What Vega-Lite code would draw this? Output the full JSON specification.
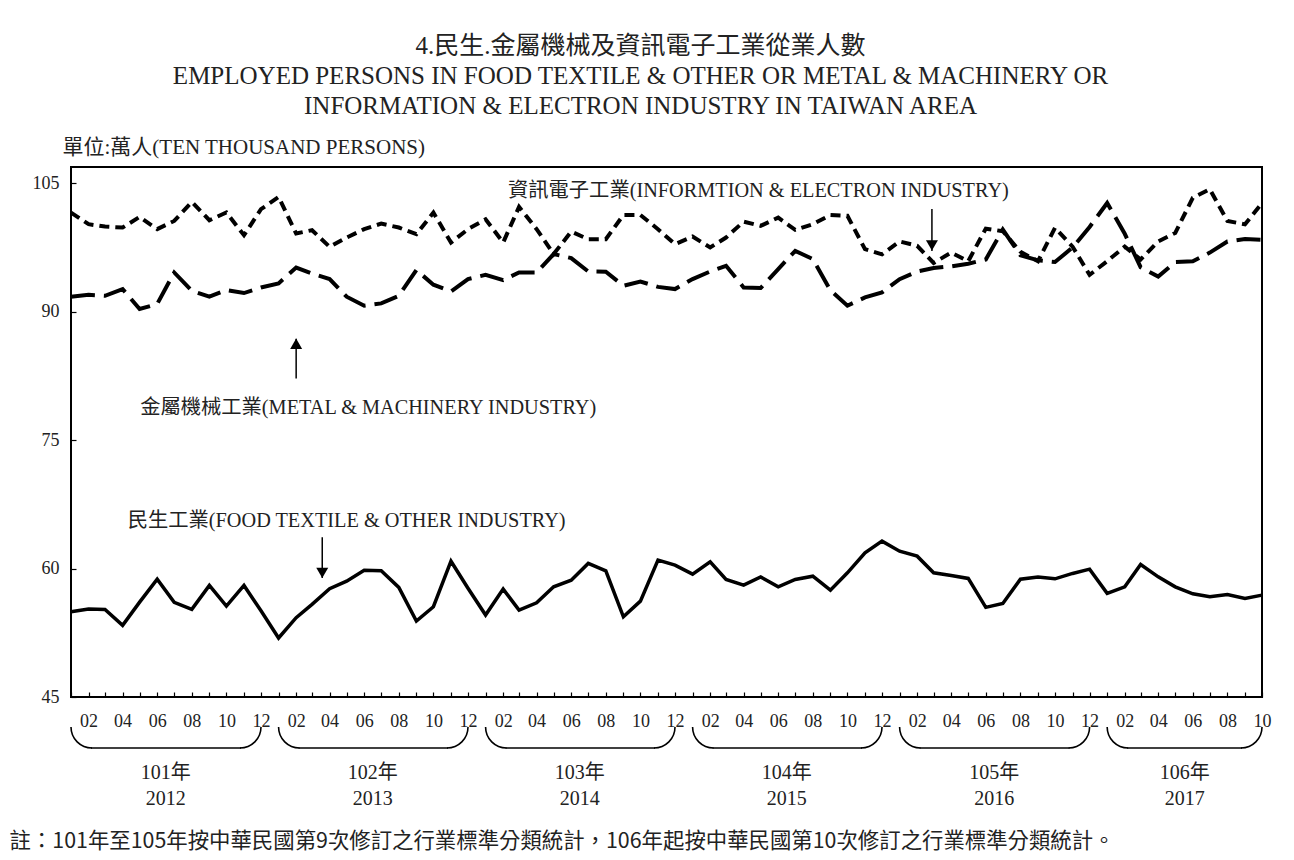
{
  "$schema": "https://vega.github.io/schema/vega-lite/v6.json",
  "width": 1191,
  "height": 530,
  "autosize": {"type": "none"},
  "padding": {"left": 71, "top": 167, "right": 32, "bottom": 163},
  "background": "white",
  "title": {
    "text": ["4.民生.金屬機械及資訊電子工業從業人數", "EMPLOYED PERSONS IN FOOD TEXTILE & OTHER OR METAL & MACHINERY OR", "INFORMATION & ELECTRON INDUSTRY IN TAIWAN AREA"],
    "font": "'Liberation Serif', 'Noto Sans CJK TC', serif",
    "fontSize": 25,
    "fontWeight": "normal",
    "lineHeight": 30,
    "color": "#222222",
    "anchor": "middle",
    "dx": -26,
    "offset": 17
  },
  "config": {
    "view": {"stroke": "black", "strokeWidth": 2},
    "font": "'Liberation Serif', 'Noto Sans CJK TC', serif",
    "axis": {"grid": false, "labelFont": "'Liberation Serif', serif", "labelFontSize": 18, "labelColor": "#222222", "tickColor": "black", "domainColor": "black"}
  },
  "datasets": {
    "series": [
      {"date": "2012-01-01", "food": 54.95, "metal": 91.75, "info": 101.58},
      {"date": "2012-02-01", "food": 55.27, "metal": 91.98, "info": 100.22},
      {"date": "2012-03-01", "food": 55.23, "metal": 91.86, "info": 99.94},
      {"date": "2012-04-01", "food": 53.37, "metal": 92.64, "info": 99.83},
      {"date": "2012-05-01", "food": 56.08, "metal": 90.31, "info": 101.07},
      {"date": "2012-06-01", "food": 58.76, "metal": 90.9, "info": 99.64},
      {"date": "2012-07-01", "food": 56.05, "metal": 94.58, "info": 100.6},
      {"date": "2012-08-01", "food": 55.23, "metal": 92.45, "info": 102.82},
      {"date": "2012-09-01", "food": 58.03, "metal": 91.75, "info": 100.68},
      {"date": "2012-10-01", "food": 55.62, "metal": 92.53, "info": 101.58},
      {"date": "2012-11-01", "food": 58.03, "metal": 92.18, "info": 98.94},
      {"date": "2012-12-01", "food": 55.07, "metal": 92.83, "info": 101.97},
      {"date": "2013-01-01", "food": 51.89, "metal": 93.3, "info": 103.4},
      {"date": "2013-02-01", "food": 54.26, "metal": 95.16, "info": 99.13},
      {"date": "2013-03-01", "food": 55.82, "metal": 94.46, "info": 99.52},
      {"date": "2013-04-01", "food": 57.64, "metal": 93.81, "info": 97.57},
      {"date": "2013-05-01", "food": 58.53, "metal": 91.75, "info": 98.66},
      {"date": "2013-06-01", "food": 59.81, "metal": 90.7, "info": 99.64},
      {"date": "2013-07-01", "food": 59.75, "metal": 90.97, "info": 100.29},
      {"date": "2013-08-01", "food": 57.8, "metal": 91.86, "info": 99.83},
      {"date": "2013-09-01", "food": 53.87, "metal": 94.86, "info": 99.05},
      {"date": "2013-10-01", "food": 55.54, "metal": 93.15, "info": 101.58},
      {"date": "2013-11-01", "food": 60.86, "metal": 92.37, "info": 98.08},
      {"date": "2013-12-01", "food": 57.7, "metal": 93.81, "info": 99.64},
      {"date": "2014-01-01", "food": 54.57, "metal": 94.31, "info": 100.8},
      {"date": "2014-02-01", "food": 57.6, "metal": 93.69, "info": 98.08},
      {"date": "2014-03-01", "food": 55.15, "metal": 94.58, "info": 102.24},
      {"date": "2014-04-01", "food": 56.0, "metal": 94.58, "info": 99.64},
      {"date": "2014-05-01", "food": 57.87, "metal": 96.73, "info": 96.73},
      {"date": "2014-06-01", "food": 58.65, "metal": 96.26, "info": 99.36},
      {"date": "2014-07-01", "food": 60.6, "metal": 94.7, "info": 98.47},
      {"date": "2014-08-01", "food": 59.73, "metal": 94.66, "info": 98.47},
      {"date": "2014-09-01", "food": 54.37, "metal": 93.03, "info": 101.3},
      {"date": "2014-10-01", "food": 56.2, "metal": 93.53, "info": 101.3},
      {"date": "2014-11-01", "food": 60.98, "metal": 92.9, "info": 99.64},
      {"date": "2014-12-01", "food": 60.4, "metal": 92.64, "info": 97.89},
      {"date": "2015-01-01", "food": 59.35, "metal": 93.81, "info": 98.78},
      {"date": "2015-02-01", "food": 60.78, "metal": 94.7, "info": 97.5},
      {"date": "2015-03-01", "food": 58.73, "metal": 95.36, "info": 98.66},
      {"date": "2015-04-01", "food": 58.07, "metal": 92.83, "info": 100.52},
      {"date": "2015-05-01", "food": 59.03, "metal": 92.76, "info": 100.02},
      {"date": "2015-06-01", "food": 57.87, "metal": 94.98, "info": 100.99},
      {"date": "2015-07-01", "food": 58.73, "metal": 97.11, "info": 99.56},
      {"date": "2015-08-01", "food": 59.11, "metal": 96.14, "info": 100.22},
      {"date": "2015-09-01", "food": 57.48, "metal": 92.5, "info": 101.3},
      {"date": "2015-10-01", "food": 59.5, "metal": 90.7, "info": 101.2},
      {"date": "2015-11-01", "food": 61.83, "metal": 91.67, "info": 97.3},
      {"date": "2015-12-01", "food": 63.2, "metal": 92.25, "info": 96.7},
      {"date": "2016-01-01", "food": 62.03, "metal": 93.8, "info": 98.2},
      {"date": "2016-02-01", "food": 61.45, "metal": 94.7, "info": 97.7},
      {"date": "2016-03-01", "food": 59.5, "metal": 95.1, "info": 95.7},
      {"date": "2016-04-01", "food": 59.2, "metal": 95.3, "info": 96.9},
      {"date": "2016-05-01", "food": 58.85, "metal": 95.6, "info": 95.9},
      {"date": "2016-06-01", "food": 55.47, "metal": 96.1, "info": 99.7},
      {"date": "2016-07-01", "food": 55.93, "metal": 99.6, "info": 99.4},
      {"date": "2016-08-01", "food": 58.76, "metal": 96.6, "info": 97.0},
      {"date": "2016-09-01", "food": 59.0, "metal": 96.0, "info": 95.9},
      {"date": "2016-10-01", "food": 58.8, "metal": 95.8, "info": 99.8},
      {"date": "2016-11-01", "food": 59.43, "metal": 97.5, "info": 97.6},
      {"date": "2016-12-01", "food": 59.93, "metal": 99.9, "info": 94.3},
      {"date": "2017-01-01", "food": 57.1, "metal": 102.7, "info": 95.9},
      {"date": "2017-02-01", "food": 57.87, "metal": 99.1, "info": 97.6},
      {"date": "2017-03-01", "food": 60.48, "metal": 95.2, "info": 96.1},
      {"date": "2017-04-01", "food": 59.03, "metal": 94.1, "info": 98.2},
      {"date": "2017-05-01", "food": 57.87, "metal": 95.8, "info": 99.2},
      {"date": "2017-06-01", "food": 57.05, "metal": 95.9, "info": 103.3},
      {"date": "2017-07-01", "food": 56.7, "metal": 96.9, "info": 104.3},
      {"date": "2017-08-01", "food": 56.98, "metal": 98.2, "info": 100.6},
      {"date": "2017-09-01", "food": 56.5, "metal": 98.5, "info": 100.2},
      {"date": "2017-10-01", "food": 56.9, "metal": 98.4, "info": 102.7}
    ],
    "labels": [
      {"date": "2015-04-27", "value": 104.1, "text": "資訊電子工業(INFORMTION & ELECTRON INDUSTRY)"},
      {"date": "2013-06-08", "value": 78.7, "text": "金屬機械工業(METAL & MACHINERY INDUSTRY)"},
      {"date": "2013-05-01", "value": 65.6, "text": "民生工業(FOOD TEXTILE & OTHER INDUSTRY)"}
    ],
    "arrows": [
      {"date": "2016-02-27", "from": 102.0, "to": 97.1, "head": 97.75, "dir": "down"},
      {"date": "2013-02-01", "from": 82.2, "to": 86.85, "head": 86.25, "dir": "up"},
      {"date": "2013-03-19", "from": 63.66, "to": 58.9, "head": 59.5, "dir": "down"}
    ],
    "years": [
      {"start": "2012-01-01", "end": "2012-12-01", "mid": "2012-06-16", "label": "101年\n2012"},
      {"start": "2013-01-01", "end": "2013-12-01", "mid": "2013-06-16", "label": "102年\n2013"},
      {"start": "2014-01-01", "end": "2014-12-01", "mid": "2014-06-16", "label": "103年\n2014"},
      {"start": "2015-01-01", "end": "2015-12-01", "mid": "2015-06-16", "label": "104年\n2015"},
      {"start": "2016-01-01", "end": "2016-12-01", "mid": "2016-06-16", "label": "105年\n2016"},
      {"start": "2017-01-01", "end": "2017-10-01", "mid": "2017-05-18", "label": "106年\n2017"}
    ]
  },
  "encoding": {
    "x": {
      "field": "date", "type": "temporal",
      "scale": {"type": "utc", "domain": ["2012-01-01", "2017-10-01"], "nice": false},
      "axis": {
        "tickCount": {"interval": "month", "step": 1},
        "labelExpr": "(utcmonth(datum.value) + 1) % 2 == 0 ? utcFormat(datum.value, '%m') : ''",
        "labelOverlap": false, "labelFlush": false, "labelBound": false,
        "tickSize": -5, "tickWidth": 1.2, "labelPadding": 20, "domain": false,
        "title": "註：101年至105年按中華民國第9次修訂之行業標準分類統計，106年起按中華民國第10次修訂之行業標準分類統計。",
        "titleFont": "'Noto Sans CJK TC', sans-serif", "titleFontSize": 21.4, "titleFontWeight": "normal", "titleColor": "#222222",
        "titleAnchor": "start", "titleAlign": "left", "titleBaseline": "middle", "titleX": -62, "titleY": 144
      }
    },
    "y": {
      "type": "quantitative",
      "scale": {"domain": [45, 106.9], "nice": false, "zero": false},
      "axis": {
        "values": [45, 60, 75, 90, 105], "tickSize": -5, "tickWidth": 1.2, "labelPadding": 17, "domain": false,
        "title": "單位:萬人(TEN THOUSAND PERSONS)", "titleAngle": 0, "titleAlign": "left", "titleBaseline": "middle",
        "titleX": -9, "titleY": -20, "titleFontSize": 21, "titleFontWeight": "normal", "titleColor": "#222222",
        "titleFont": "'Liberation Serif', 'Noto Sans CJK TC', serif"
      }
    }
  },
  "layer": [
    {"data": {"name": "series"}, "mark": {"type": "line", "color": "black", "strokeWidth": 3.5, "strokeJoin": "miter"}, "encoding": {"y": {"field": "food", "type": "quantitative"}}},
    {"data": {"name": "series"}, "mark": {"type": "line", "color": "black", "strokeWidth": 4, "strokeDash": [24, 9]}, "encoding": {"y": {"field": "metal", "type": "quantitative"}}},
    {"data": {"name": "series"}, "mark": {"type": "line", "color": "black", "strokeWidth": 4, "strokeDash": [10, 6]}, "encoding": {"y": {"field": "info", "type": "quantitative"}}},
    {"data": {"name": "labels"}, "mark": {"type": "text", "fontSize": 20.3, "color": "#222222", "align": "center", "baseline": "middle"}, "encoding": {"text": {"field": "text"}, "y": {"field": "value", "type": "quantitative"}}},
    {"data": {"name": "arrows"}, "mark": {"type": "rule", "color": "black", "strokeWidth": 1.5}, "encoding": {"y": {"field": "from", "type": "quantitative"}, "y2": {"field": "to"}}},
    {"data": {"name": "arrows"}, "mark": {"type": "point", "filled": true, "color": "black", "size": 144, "opacity": 1}, "encoding": {"y": {"field": "head", "type": "quantitative"}, "shape": {"field": "dir", "type": "nominal", "scale": {"domain": ["down", "up"], "range": ["triangle-down", "triangle-up"]}, "legend": null}}},
    {"data": {"name": "years"}, "mark": {"type": "text", "fontSize": 20, "color": "#222222", "align": "center", "baseline": "middle", "lineBreak": "\n", "lineHeight": 26}, "encoding": {"x": {"field": "mid", "type": "temporal"}, "y": {"datum": 36.1}, "text": {"field": "label"}}},
    {"data": {"name": "years"}, "mark": {"type": "rule", "color": "black", "strokeWidth": 1.6, "xOffset": 20, "x2Offset": -20, "yOffset": 21}, "encoding": {"x": {"field": "start", "type": "temporal"}, "x2": {"field": "end"}, "y": {"datum": 41.5}}},
    {"data": {"name": "years"}, "mark": {"type": "arc", "filled": false, "color": "black", "strokeWidth": 1.6, "theta": 3.14159, "theta2": 4.71239, "radius": 21, "radius2": 21, "xOffset": 21}, "encoding": {"x": {"field": "start", "type": "temporal"}, "y": {"datum": 41.5}}},
    {"data": {"name": "years"}, "mark": {"type": "arc", "filled": false, "color": "black", "strokeWidth": 1.6, "theta": 1.5708, "theta2": 3.14159, "radius": 21, "radius2": 21, "xOffset": -21}, "encoding": {"x": {"field": "end", "type": "temporal"}, "y": {"datum": 41.5}}}
  ]
}
